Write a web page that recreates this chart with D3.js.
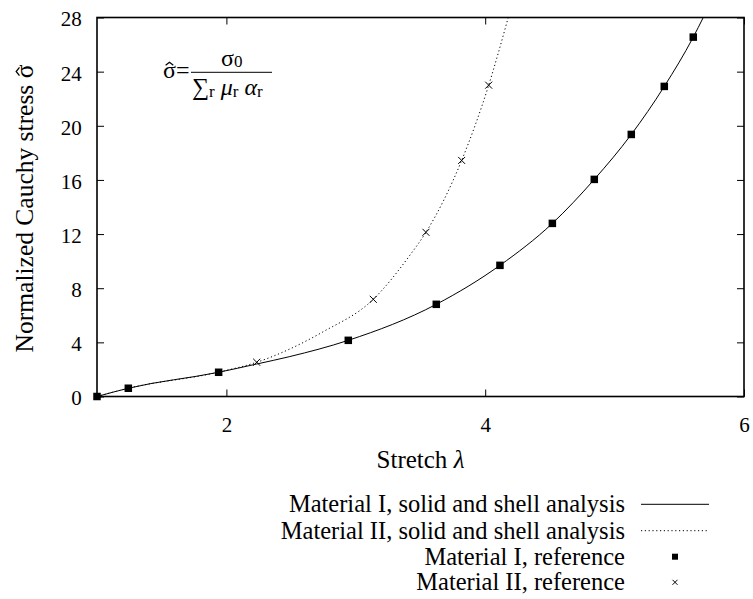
<!DOCTYPE html>
<html>
<head>
<meta charset="utf-8">
<script src="https://cdn.jsdelivr.net/npm/d3@7"></script>
<style>
  html, body { margin: 0; padding: 0; background: #fff; }
  svg { display: block; }
  svg text { font-family: "Liberation Serif", "Times New Roman", serif; fill: #000; }
</style>
</head>
<body>
<svg id="chart" width="753" height="599" font-family="Liberation Serif, serif"></svg>
<script>
// Reference points, Material I (squares)
const matIRefX = [1, 1.242, 1.94, 2.942, 3.622, 4.114, 4.519, 4.843, 5.129, 5.384, 5.608];
const matIRefY = [0, 0.61, 1.79, 4.15, 6.81, 9.69, 12.79, 16.04, 19.36, 22.91, 26.55];

// Reference points, Material II (crosses)
const matIIRefX = [2.234, 3.135, 3.542, 3.818, 4.027];
const matIIRefY = [2.53, 7.18, 12.13, 17.44, 23.0];

// Solid and shell analysis curves
const matICurveX = [1, 1.242, 1.94, 2.234, 2.49, 2.942, 3.622, 4.114, 4.519, 4.843, 5.129, 5.384, 5.608, 5.685];
const matICurveY = [0, 0.61, 1.79, 2.4, 2.95, 4.15, 6.81, 9.69, 12.79, 16.04, 19.36, 22.91, 26.55, 28];
const matIICurveX = [1, 1.242, 1.94, 2.234, 2.749, 3.135, 3.419, 3.542, 3.818, 4.027, 4.178];
const matIICurveY = [0, 0.61, 1.8, 2.53, 4.79, 7.18, 10.45, 12.13, 17.44, 23.0, 28];

const xTicks = [2, 4, 6];
const yTicks = [0, 4, 8, 12, 16, 20, 24, 28];

const legendLabels = [
  "Material I, solid and shell analysis",
  "Material II, solid and shell analysis",
  "Material I, reference",
  "Material II, reference"
];

const svg = d3.select("#chart");
const m = { left: 97, top: 17.5, right: 9, bottom: 202.5 };
const W = 753 - m.left - m.right;
const H = 599 - m.top - m.bottom;

const x = d3.scaleLinear().domain([1, 6]).range([0, W]);
const y = d3.scaleLinear().domain([0, 28]).range([H, 0]);

const g = svg.append("g").attr("transform", `translate(${m.left},${m.top})`);

svg.append("defs").append("clipPath").attr("id", "plotclip")
  .append("rect").attr("x", 0).attr("y", 0).attr("width", W).attr("height", H);

const FONT = "Liberation Serif, serif";
const tickFS = 21;
const tick = 7;

// Axes with inward ticks on all four sides
const styleAxis = sel => {
  sel.attr("font-family", FONT).attr("font-size", tickFS);
  sel.select(".domain").remove();
  sel.selectAll(".tick line").attr("stroke", "#000").attr("stroke-width", 1);
  sel.selectAll(".tick text").attr("fill", "#000");
};

g.append("g").attr("transform", `translate(0,${H})`)
  .call(d3.axisBottom(x).tickValues(xTicks).tickSize(-tick).tickPadding(20.6).tickFormat(d3.format("d")))
  .call(styleAxis);
g.append("g")
  .call(d3.axisTop(x).tickValues(xTicks).tickSize(-tick).tickFormat(""))
  .call(styleAxis);
g.append("g")
  .call(d3.axisLeft(y).tickValues(yTicks).tickSize(-tick).tickPadding(15.3).tickFormat(d3.format("d")))
  .call(styleAxis)
  .call(a => a.selectAll(".tick text").attr("dy", "0.4em"));
g.append("g").attr("transform", `translate(${W},0)`)
  .call(d3.axisRight(y).tickValues(yTicks).tickSize(-tick).tickFormat(""))
  .call(styleAxis);

// Curves
const line = d3.line().x(d => x(d[0])).y(d => y(d[1])).curve(d3.curveMonotoneX);
const plot = g.append("g").attr("clip-path", "url(#plotclip)");

plot.append("path")
  .datum(matICurveX.map((v, i) => [v, matICurveY[i]]))
  .attr("d", line).attr("fill", "none").attr("stroke", "#000").attr("stroke-width", 1);

plot.append("path")
  .datum(matIICurveX.map((v, i) => [v, matIICurveY[i]]))
  .attr("d", line).attr("fill", "none").attr("stroke", "#000").attr("stroke-width", 1)
  .attr("stroke-dasharray", "1.2,2.6");

// Square markers
const sq = 7.5;
g.append("g").selectAll("rect")
  .data(matIRefX.map((v, i) => [v, matIRefY[i]]))
  .join("rect")
  .attr("x", d => x(d[0]) - sq / 2).attr("y", d => y(d[1]) - sq / 2)
  .attr("width", sq).attr("height", sq).attr("fill", "#000");

// Cross markers
const cr = 3.5;
const crossPath = (cx, cy, r) => `M${cx - r},${cy - r}L${cx + r},${cy + r}M${cx - r},${cy + r}L${cx + r},${cy - r}`;
g.append("g").selectAll("path")
  .data(matIIRefX.map((v, i) => [v, matIIRefY[i]]))
  .join("path")
  .attr("d", d => crossPath(x(d[0]), y(d[1]), cr))
  .attr("stroke", "#000").attr("stroke-width", 1).attr("fill", "none");

// Frame
g.append("rect").attr("width", W).attr("height", H)
  .attr("fill", "none").attr("stroke", "#000").attr("stroke-width", 1.6);

// Draws a circumflex over the character at index idx of a text element,
// in the same coordinate system as that text.
function addHat(parent, textSel, idx, fs) {
  const box = textSel.node().getExtentOfChar(idx);
  const cx = box.x + box.width / 2;
  const baseY = +textSel.attr("y") || 0;
  const w = fs * 0.16, top = baseY - fs * 0.66, bot = baseY - fs * 0.53;
  parent.append("path")
    .attr("d", `M${cx - w},${bot}L${cx},${top}L${cx + w},${bot}`)
    .attr("fill", "none").attr("stroke", "#000").attr("stroke-width", fs * 0.05);
}

// Axis titles
svg.append("text").attr("x", m.left + W / 2).attr("y", 467.7)
  .attr("text-anchor", "middle").attr("font-size", 25).attr("font-family", FONT)
  .html('Stretch <tspan font-style="italic">λ</tspan>');

const yFS = 25.5;
const yTitleG = svg.append("g").attr("transform", "translate(33,208.5) rotate(-90)");
const yTitle = yTitleG.append("text")
  .attr("x", 0).attr("y", 0)
  .attr("text-anchor", "middle").attr("font-size", yFS).attr("font-family", FONT)
  .text("Normalized Cauchy stress σ");
addHat(yTitleG, yTitle, yTitle.text().length - 1, yFS);

// Formula annotation
const fFS = 24;
const f = svg.append("g").attr("font-size", fFS).attr("font-family", FONT);
const lhs = f.append("text").attr("x", 163).attr("y", 78).text("σ=");
addHat(f, lhs, 0, fFS);
f.append("line").attr("x1", 191).attr("x2", 272).attr("y1", 72.3).attr("y2", 72.3)
  .attr("stroke", "#000").attr("stroke-width", 1);
f.append("text").attr("x", 221).attr("y", 66)
  .html('σ<tspan font-size="17" dy="1">0</tspan>');
f.append("text").attr("x", 192).attr("y", 95)
  .html('∑<tspan font-size="17" dy="2">r</tspan>'
      + '<tspan dy="-2"> </tspan><tspan font-style="italic">μ</tspan><tspan font-size="17" dy="2">r</tspan>'
      + '<tspan dy="-2"> </tspan><tspan font-style="italic">α</tspan><tspan font-size="17" dy="2">r</tspan>');

// Legend
const legendRows = [504.3, 530.7, 556.7, 582.3];
const lg = svg.append("g").attr("font-family", FONT);
legendLabels.forEach((t, i) => {
  lg.append("text").attr("x", 625).attr("y", legendRows[i] + 8)
    .attr("text-anchor", "end").attr("font-size", 24.5).text(t);
});
lg.append("line").attr("x1", 641).attr("x2", 709).attr("y1", legendRows[0]).attr("y2", legendRows[0])
  .attr("stroke", "#000").attr("stroke-width", 1);
lg.append("line").attr("x1", 641).attr("x2", 709).attr("y1", legendRows[1]).attr("y2", legendRows[1])
  .attr("stroke", "#000").attr("stroke-width", 1).attr("stroke-dasharray", "1.2,2.6");
lg.append("rect").attr("x", 675 - 3).attr("y", legendRows[2] - 3).attr("width", 6).attr("height", 6).attr("fill", "#000");
lg.append("path").attr("d", crossPath(675, legendRows[3], 2.5)).attr("stroke", "#000").attr("stroke-width", 1);
</script>
</body>
</html>
